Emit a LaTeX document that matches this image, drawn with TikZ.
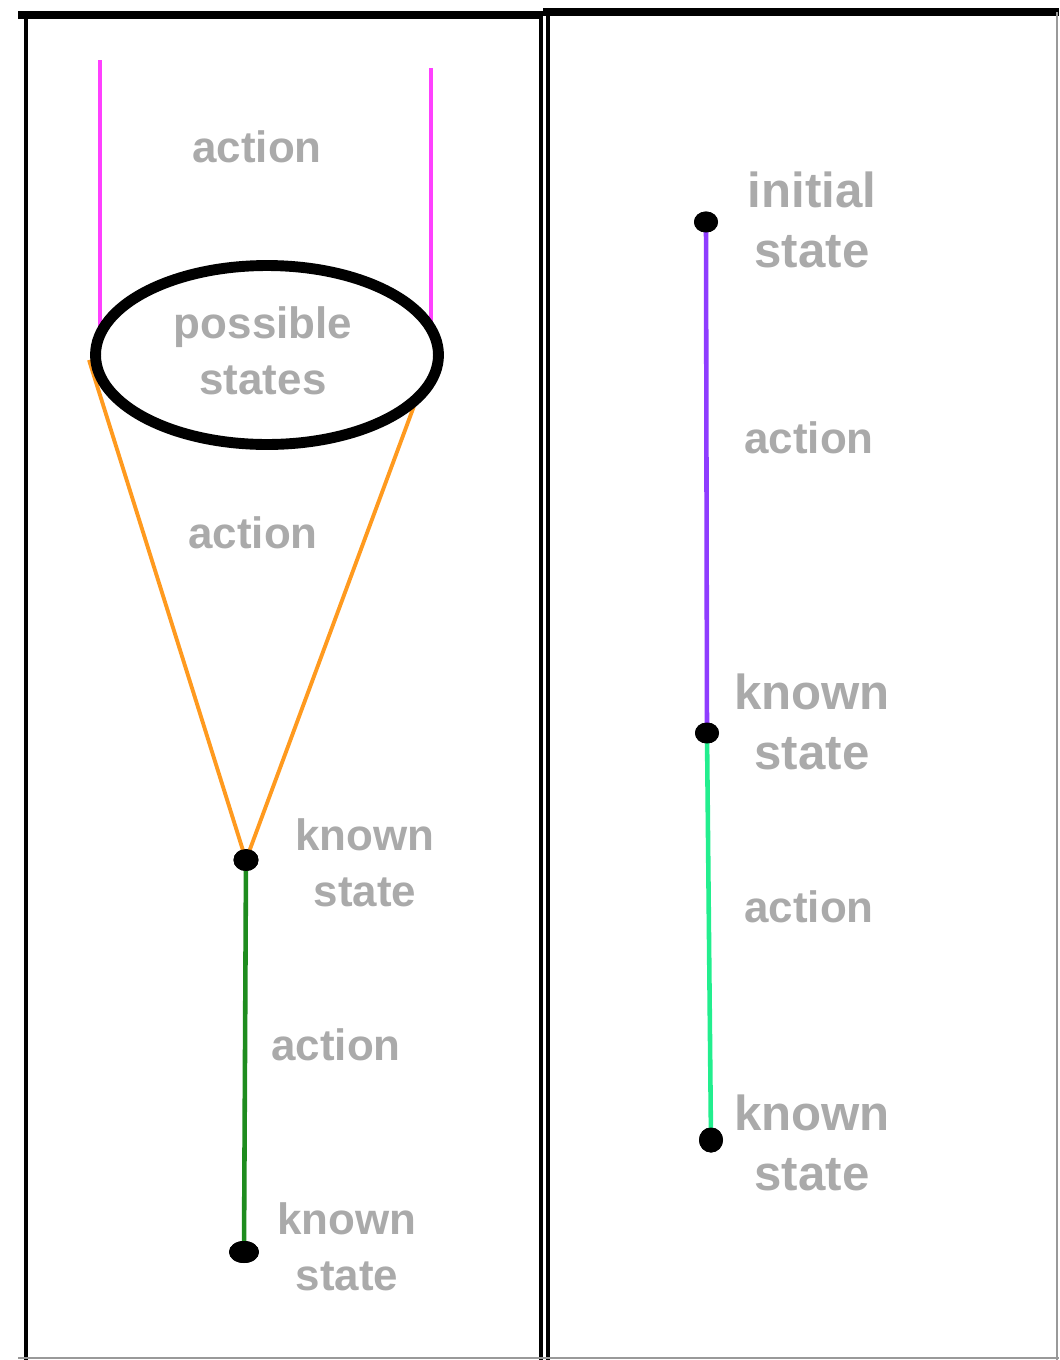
\documentclass[tikz,border=0pt]{standalone}
\usepackage{fontspec}
\setmainfont{Liberation Sans}
\usetikzlibrary{shapes.geometric}
\definecolor{labelgray}{HTML}{AAAAAA}
\definecolor{pinkline}{HTML}{FF40FF}
\definecolor{orangeline}{HTML}{FF9A1F}
\definecolor{greenline}{HTML}{1E8C1E}
\definecolor{purpleline}{HTML}{8F3CFF}
\definecolor{mintline}{HTML}{22EE8E}
\definecolor{edgegray}{HTML}{999999}
\begin{document}
\begin{tikzpicture}[x=0.02cm,y=-0.02cm,
  lbl/.style={text=labelgray, font=\bfseries\fontsize{25}{32}\selectfont, align=center, inner sep=0pt},
  biglbl/.style={lbl, font=\bfseries\fontsize{28}{34}\selectfont},
  dot/.style={ellipse, fill=black, draw=none, inner sep=0pt, minimum width=0.48cm, minimum height=0.42cm},
  frame/.style={line width=2.6pt, black},
  bar/.style={line width=5pt, black},
  link/.style={line width=2.6pt}]
\useasboundingbox (0,0) rectangle (1059,1360);

% panel frames
\draw[bar] (18,15) -- (543,15);
\draw[bar] (543,12) -- (1059,12);
\draw[frame] (26,15) -- (26,1360);
\draw[frame] (541,15) -- (541,1360);
\draw[frame] (548,12) -- (548,1360);
\draw[edgegray, line width=1.2pt] (1057,12) -- (1057,1360);
\draw[edgegray, line width=1.2pt] (18,1358) -- (1059,1358);

% ---------- left panel ----------
\coordinate (pl) at (100,60);
\coordinate (pr) at (431,68);
\coordinate (pla) at (100,345);
\coordinate (pra) at (431,345);
\coordinate (ol) at (89,360);
\coordinate (or) at (414,406);

\node[dot, minimum width=0.5cm, minimum height=0.44cm] (k1) at (246,860) {};
\node[dot, minimum width=0.6cm, minimum height=0.44cm] (k2) at (244,1252) {};

\draw[link, pinkline] (pl) -- (pla);
\draw[link, pinkline] (pr) -- (pra);
\draw[line width=2.2pt, orangeline] (ol) -- (k1.center);
\draw[line width=2.2pt, orangeline] (or) -- (k1.center);
\draw[link, greenline] (k1.center) -- (k2.center);

\node[ellipse, draw=black, fill=white, line width=6.2pt, minimum width=6.86cm, minimum height=3.58cm, inner sep=0pt] (ps) at (267,355) {};
\node[dot, minimum width=0.5cm, minimum height=0.44cm] at (k1) {};
\node[dot, minimum width=0.6cm, minimum height=0.44cm] at (k2) {};

\node[lbl] (a1) at (257,147) {action};
\node[lbl] (t1) at (263,351) {possible\\states};
\node[lbl] (a2) at (253,533) {action};
\node[lbl] (t2) at (365,863) {known\\state};
\node[lbl] (a3) at (336,1045) {action};
\node[lbl] (t3) at (347,1247) {known\\state};

% ---------- right panel ----------
\node[dot] (r1) at (706,222) {};
\node[dot] (r2) at (707,733) {};
\node[dot, minimum height=0.5cm] (r3) at (711,1140) {};
\draw[link, purpleline] (r1.center) -- (r2.center);
\draw[link, mintline] (r2.center) -- (r3.center);
\node[dot] at (r1) {};
\node[dot] at (r2) {};
\node[dot, minimum height=0.5cm] at (r3) {};

\node[biglbl] (b1) at (812,220) {initial\\state};
\node[lbl] (b2) at (809,438) {action};
\node[biglbl] (b3) at (812,722) {known\\state};
\node[lbl] (b4) at (809,907) {action};
\node[biglbl] (b5) at (812,1143) {known\\state};
\end{tikzpicture}
\end{document}
